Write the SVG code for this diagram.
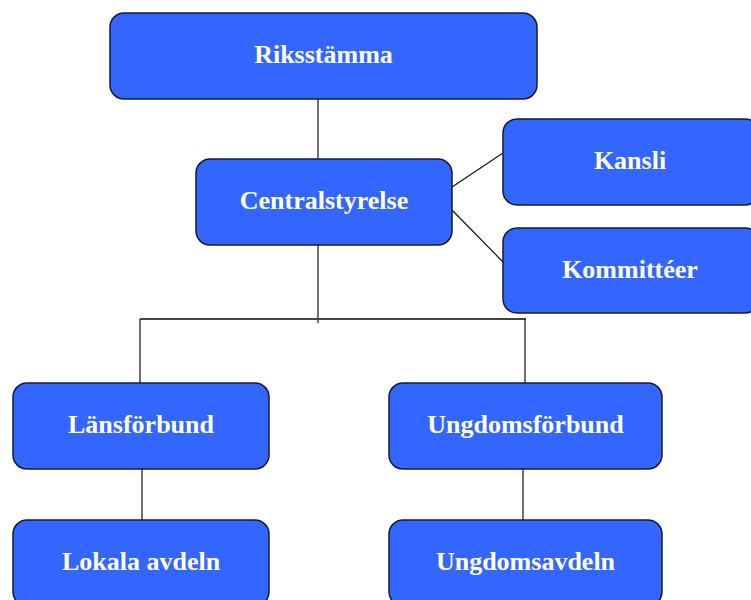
<svg xmlns="http://www.w3.org/2000/svg" width="751" height="600" viewBox="0 0 751 600">
<style>
.box{fill:#3366FF;stroke:#1a1a2e;stroke-width:1.5}
.lbl{font-family:"Liberation Serif","Times New Roman",serif;font-weight:bold;font-size:26px;fill:#ffffff;text-anchor:middle}
.con{stroke:#111;stroke-width:1.2;fill:none}
</style>
<rect width="751" height="600" fill="#ffffff"/>
<g id="connectors">
<line class="con" x1="318" y1="99" x2="318" y2="159"/>
<line class="con" x1="318" y1="245" x2="318" y2="323"/>
<line class="con" x1="140" y1="319" x2="526" y2="319" style="stroke:#444;stroke-width:1.8"/>
<line class="con" x1="140" y1="319" x2="140" y2="383"/>
<line class="con" x1="525" y1="319" x2="525" y2="383"/>
<line class="con" x1="142" y1="469" x2="142" y2="521"/>
<line class="con" x1="523" y1="469" x2="523" y2="521"/>
<line class="con" x1="452" y1="187" x2="503" y2="153"/>
<line class="con" x1="452" y1="210" x2="503" y2="262"/>
</g>
<g id="riksstamma">
<rect class="box" x="110" y="13" width="427" height="86" rx="14"/>
<text class="lbl" x="323.5" y="63">Riksstämma</text>
</g>
<g id="centralstyrelse">
<rect class="box" x="196" y="159" width="256" height="86" rx="14"/>
<text class="lbl" x="324" y="209">Centralstyrelse</text>
</g>
<g id="kansli">
<rect class="box" x="503" y="119" width="256" height="86" rx="14"/>
<text class="lbl" x="630" y="169">Kansli</text>
</g>
<g id="kommitteer">
<rect class="box" x="503" y="228" width="256" height="85" rx="14"/>
<text class="lbl" x="630" y="278">Kommittéer</text>
</g>
<g id="lansforbund">
<rect class="box" x="13" y="383" width="256" height="86" rx="14"/>
<text class="lbl" x="141" y="433">Länsförbund</text>
</g>
<g id="ungdomsforbund">
<rect class="box" x="389" y="383" width="273" height="86" rx="14"/>
<text class="lbl" x="525.5" y="433">Ungdomsförbund</text>
</g>
<g id="lokala">
<rect class="box" x="13" y="520" width="256" height="86" rx="14"/>
<text class="lbl" x="141" y="570">Lokala avdeln</text>
</g>
<g id="ungdomsavdeln">
<rect class="box" x="389" y="520" width="273" height="86" rx="14"/>
<text class="lbl" x="525.5" y="570">Ungdomsavdeln</text>
</g>
</svg>
